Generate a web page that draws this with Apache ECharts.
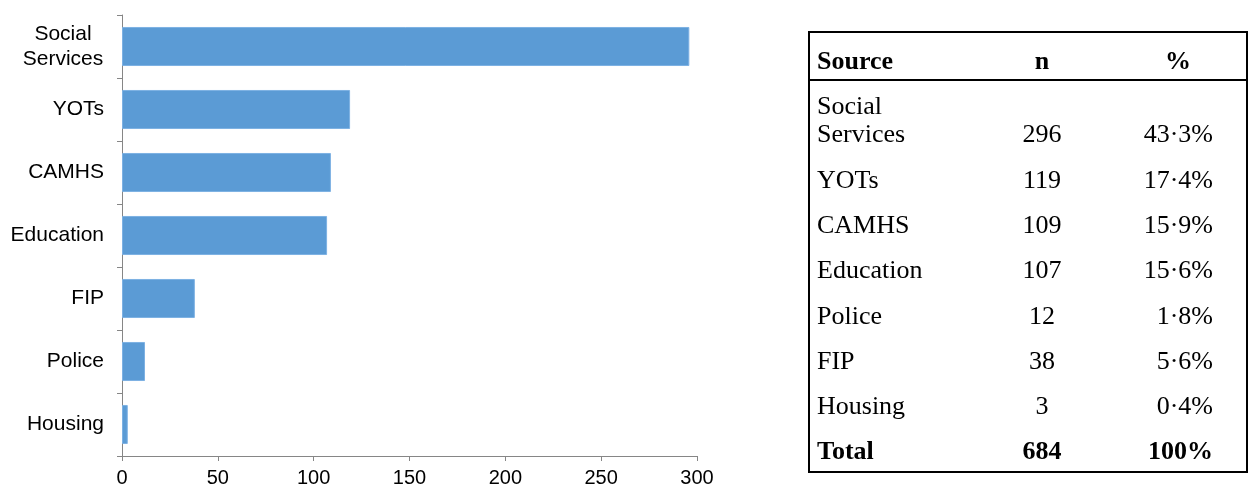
<!DOCTYPE html>
<html>
<head>
<meta charset="utf-8">
<script src="https://cdn.jsdelivr.net/npm/echarts@6/dist/echarts.min.js"></script>
<style>
html,body{margin:0;padding:0;background:#fff;}
#chart{width:1250px;height:491px;}
</style>
</head>
<body>
<div id="chart"></div>
<script>
// Chart data (top to bottom)
var categories = ['Social Services', 'YOTs', 'CAMHS', 'Education', 'FIP', 'Police', 'Housing'];
var counts = [296, 119, 109, 107, 38, 12, 3];
var xTicks = [0, 50, 100, 150, 200, 250, 300];

// Table data
var tableHeader = ['Source', 'n', '%'];
var tableSources = ['Social\nServices', 'YOTs', 'CAMHS', 'Education', 'Police', 'FIP', 'Housing'];
var tableN = ['296', '119', '109', '107', '12', '38', '3'];
var tablePct = ['43·3%', '17·4%', '15·9%', '15·6%', '1·8%', '5·6%', '0·4%'];
var tableTotal = ['Total', '684', '100%'];

var chart = echarts.init(document.getElementById('chart'));

var serif = '"Liberation Serif", "Times New Roman", serif';
var sans = '"Liberation Sans", Arial, sans-serif';
var FS = 26;
function txt(str, x, baseline, align, bold) {
  return {
    type: 'text',
    x: x, y: baseline - 9,
    style: {
      text: str,
      fill: '#000',
      font: (bold ? 'bold ' : '') + FS + 'px ' + serif,
      align: align,
      verticalAlign: 'middle'
    }
  };
}

var colSrc = 817, colN = 1042, colPct = 1213, colPctHead = 1178;
var graphics = [];
graphics.push({ type: 'rect', shape: { x: 809, y: 32, width: 438, height: 440 },
  style: { fill: 'none', stroke: '#000', lineWidth: 2 } });
graphics.push({ type: 'line', shape: { x1: 809, y1: 80, x2: 1247, y2: 80 },
  style: { stroke: '#000', lineWidth: 2 } });
graphics.push(txt(tableHeader[0], colSrc, 71, 'left', true));
graphics.push(txt(tableHeader[1], colN, 71, 'center', true));
graphics.push(txt(tableHeader[2], colPctHead, 71, 'center', true));
var firstBase = 144.5, rowStep = 45.3;
for (var i = 0; i < tableSources.length; i++) {
  var b = firstBase + i * rowStep;
  var lines = tableSources[i].split('\n');
  for (var k = 0; k < lines.length; k++) {
    graphics.push(txt(lines[k], colSrc, b - (lines.length - 1 - k) * 28, 'left', false));
  }
  graphics.push(txt(tableN[i], colN, b, 'center', false));
  graphics.push(txt(tablePct[i], colPct, b, 'right', false));
}
var tb = firstBase + tableSources.length * rowStep;
graphics.push(txt(tableTotal[0], colSrc, tb, 'left', true));
graphics.push(txt(tableTotal[1], colN, tb, 'center', true));
graphics.push(txt(tableTotal[2], colPct, tb, 'right', true));

var axisColor = '#868686';
var option = {
  animation: false,
  backgroundColor: '#fff',
  grid: { left: 122, top: 15, width: 575, bottom: 35, containLabel: false },
  xAxis: {
    type: 'value',
    min: xTicks[0], max: xTicks[xTicks.length - 1], interval: xTicks[1] - xTicks[0],
    axisLine: { show: true, lineStyle: { color: axisColor, width: 1 } },
    axisTick: { show: true, length: 5, lineStyle: { color: axisColor } },
    splitLine: { show: false },
    axisLabel: { color: '#000', fontSize: 20, fontFamily: sans, margin: 12 }
  },
  yAxis: {
    type: 'category',
    data: categories,
    inverse: true,
    axisLine: { show: true, lineStyle: { color: axisColor, width: 1 } },
    axisTick: { show: true, length: 5, inside: false, lineStyle: { color: axisColor } },
    axisLabel: {
      color: '#000', fontSize: 21, fontFamily: sans,
      margin: 18, lineHeight: 25, align: 'right',
      formatter: function (v) {
        if (v.indexOf(' ') < 0) return v;
        return '{c|' + v.split(' ').join('}\n{c|') + '}';
      },
      rich: {
        c: { width: 82, align: 'center', fontSize: 21, fontFamily: sans, lineHeight: 25, color: '#000' }
      }
    }
  },
  series: [{
    type: 'bar',
    data: counts,
    barCategoryGap: '38%',
    itemStyle: { color: '#5B9BD5', borderColor: '#7DB1E3', borderWidth: 1 }
  }],
  graphic: graphics
};
chart.setOption(option);
</script>
</body>
</html>
